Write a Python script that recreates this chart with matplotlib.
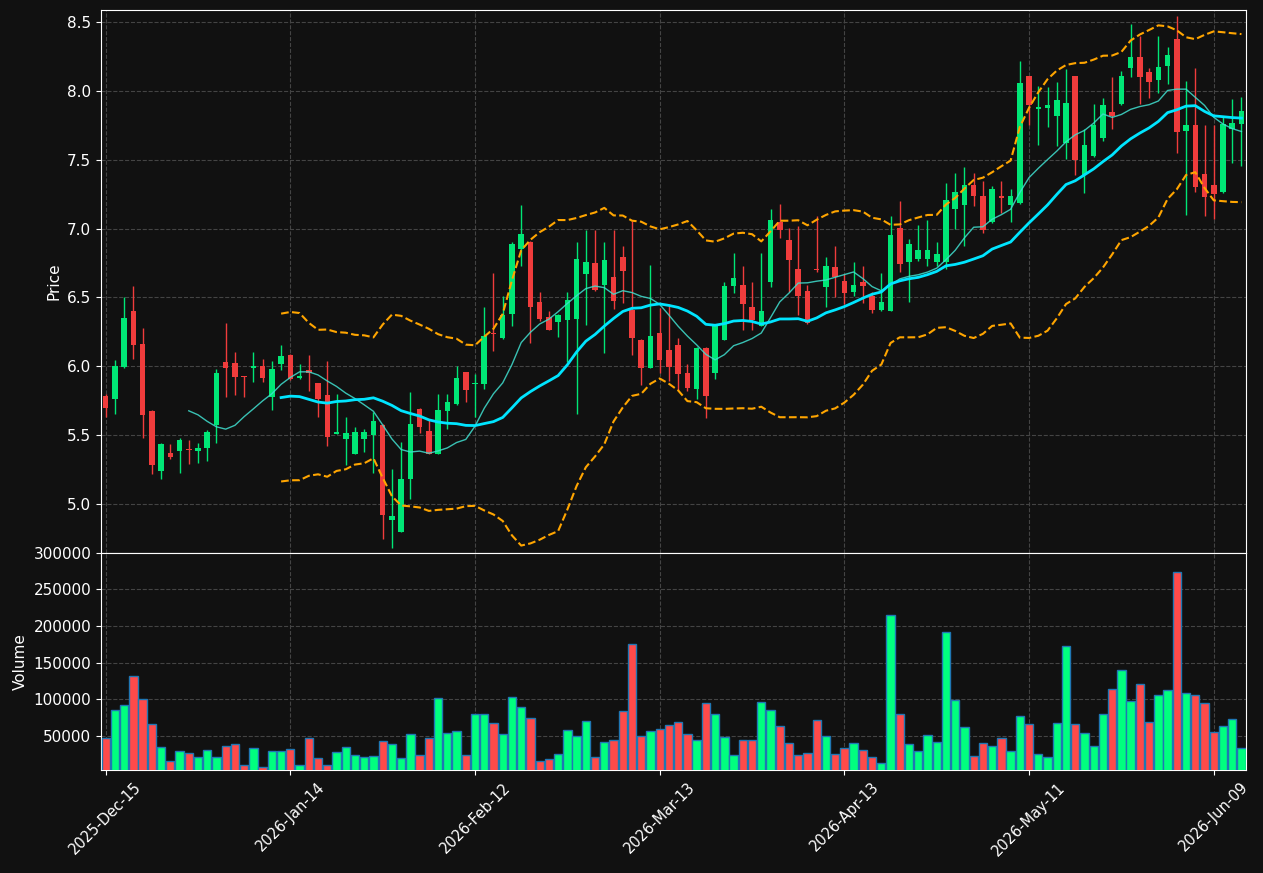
"""Candlestick chart with moving averages, Bollinger bands and volume."""
import matplotlib
matplotlib.use("Agg")
import matplotlib.pyplot as plt
import numpy as np
import pandas as pd

# trading days (NYSE holidays skipped)
holidays = ["2025-12-25", "2026-01-01", "2026-01-19", "2026-02-16",
            "2026-04-03", "2026-05-25"]
dates = pd.date_range("2025-12-15", periods=124,
                      freq=pd.offsets.CustomBusinessDay(holidays=holidays))

opens = [5.785, 5.766, 5.995, 6.401, 6.162, 5.676, 5.237, 5.372, 5.382, 5.401,
         5.382, 5.41, 5.575, 6.031, 6.024, 5.93, 5.99, 6.0, 5.78, 6.019,
         6.082, 5.915, 5.973, 5.879, 5.79, 5.512, 5.469, 5.367, 5.469, 5.498,
         5.575, 4.882, 4.795, 5.179, 5.691, 5.531, 5.367, 5.679, 5.727, 5.959,
         5.87, 5.872, 6.244, 6.208, 6.382, 6.85, 6.901, 6.466, 6.357, 6.324,
         6.338, 6.345, 6.671, 6.749, 6.592, 6.647, 6.792, 6.411, 6.191, 5.99,
         6.242, 6.118, 6.155, 5.952, 5.838, 6.133, 5.954, 6.191, 6.585, 6.589,
         6.43, 6.295, 6.614, 7.046, 6.915, 6.705, 6.546, 6.709, 6.577, 6.72,
         6.622, 6.537, 6.61, 6.512, 6.408, 6.403, 7.002, 6.758, 6.778, 6.778,
         6.758, 6.754, 7.14, 7.169, 7.314, 7.234, 7.048, 7.234, 7.169, 7.186,
         8.104, 7.867, 7.877, 7.816, 7.621, 8.104, 7.386, 7.527, 7.657, 7.843,
         7.903, 8.164, 8.249, 8.133, 8.077, 8.179, 8.379, 7.708, 7.749, 7.394,
         7.314, 7.266, 7.72, 7.756]
highs = [5.80, 6.046, 6.50, 6.582, 6.275, 5.68, 5.44, 5.437, 5.48, 5.464,
         5.445, 5.534, 5.978, 6.312, 6.104, 5.93, 6.104, 6.053, 6.04, 6.155,
         6.09, 6.02, 6.08, 5.88, 6.036, 5.797, 5.63, 5.56, 5.543, 5.671,
         5.58, 5.254, 5.449, 5.812, 5.70, 5.611, 5.797, 5.797, 6.0, 5.96,
         5.944, 6.43, 6.674, 6.514, 6.899, 7.169, 6.91, 6.543, 6.403, 6.38,
         6.536, 6.899, 6.986, 6.99, 6.899, 6.99, 6.87, 7.058, 6.20, 6.739,
         6.42, 6.449, 6.208, 6.02, 6.14, 6.14, 6.30, 6.609, 6.819, 6.725,
         6.609, 6.819, 7.145, 7.181, 7.005, 7.019, 6.589, 7.094, 6.79, 6.874,
         6.669, 6.754, 6.725, 6.541, 6.681, 7.092, 7.20, 6.923, 7.029, 7.063,
         6.906, 7.333, 7.401, 7.449, 7.406, 7.348, 7.307, 7.348, 7.29, 8.217,
         8.11, 8.034, 8.029, 8.065, 8.159, 8.11, 7.72, 7.906, 7.949, 8.101,
         8.147, 8.483, 8.396, 8.167, 8.401, 8.319, 8.546, 8.07, 8.167, 7.749,
         7.749, 7.809, 7.942, 7.957]
lows = [5.635, 5.652, 5.99, 6.051, 5.478, 5.22, 5.181, 5.33, 5.225, 5.29,
        5.30, 5.31, 5.442, 5.78, 5.795, 5.78, 5.889, 5.889, 5.68, 5.973,
        5.90, 5.91, 5.82, 5.63, 5.42, 5.51, 5.283, 5.367, 5.379, 5.227,
        4.746, 4.681, 4.795, 5.036, 5.519, 5.36, 5.36, 5.543, 5.72, 5.739,
        5.63, 5.833, 6.109, 6.2, 6.29, 6.727, 6.167, 6.33, 6.26, 6.21,
        6.034, 5.652, 6.3, 6.55, 6.094, 6.418, 6.457, 6.082, 5.862, 5.99,
        5.949, 5.894, 5.831, 5.82, 5.761, 5.623, 5.911, 6.19, 6.534, 6.261,
        6.261, 6.29, 6.577, 6.928, 6.539, 6.374, 6.31, 6.686, 6.428, 6.505,
        6.452, 6.51, 6.459, 6.384, 6.40, 6.40, 6.686, 6.464, 6.761, 6.729,
        6.729, 6.705, 7.0, 6.87, 7.162, 6.969, 7.04, 7.111, 7.048, 7.18,
        7.754, 7.606, 7.739, 7.599, 7.507, 7.386, 7.256, 7.52, 7.635, 7.72,
        7.90, 8.101, 7.901, 7.949, 7.986, 8.053, 7.551, 7.099, 7.266, 7.092,
        7.07, 7.26, 7.478, 7.452]
closes = [5.70, 6.00, 6.348, 6.157, 5.647, 5.287, 5.437, 5.338, 5.466, 5.39,
          5.408, 5.524, 5.952, 5.99, 5.925, 5.92, 6.00, 5.918, 5.98, 6.075,
          5.908, 5.93, 5.954, 5.761, 5.49, 5.524, 5.514, 5.524, 5.524, 5.604,
          4.918, 4.915, 5.184, 5.582, 5.556, 5.367, 5.684, 5.742, 5.915, 5.829,
          5.879, 6.22, 6.236, 6.372, 6.886, 6.959, 6.432, 6.343, 6.266, 6.372,
          6.478, 6.778, 6.756, 6.556, 6.771, 6.476, 6.693, 6.208, 5.99, 6.22,
          6.048, 5.998, 5.947, 5.845, 6.133, 5.785, 6.297, 6.582, 6.64, 6.452,
          6.336, 6.401, 7.06, 6.99, 6.773, 6.512, 6.316, 6.70, 6.727, 6.65,
          6.529, 6.592, 6.58, 6.408, 6.466, 6.952, 6.742, 6.886, 6.843, 6.843,
          6.814, 7.205, 7.263, 7.314, 7.234, 6.988, 7.285, 7.22, 7.234, 8.06,
          7.899, 7.879, 7.894, 7.93, 7.908, 7.498, 7.604, 7.75, 7.894, 7.816,
          8.111, 8.249, 8.099, 8.063, 8.176, 8.263, 7.70, 7.749, 7.302, 7.229,
          7.249, 7.757, 7.768, 7.85]
volumes = [47000, 84500, 91400, 131400, 99700, 66500, 34800, 15500, 29300, 26500,
           21000, 30700, 21000, 36200, 39000, 10000, 33500, 6800, 29300, 29300,
           32000, 10000, 47200, 19600, 10000, 27900, 34800, 23800, 21000, 22400,
           43100, 39000, 19600, 52800, 23800, 47200, 101000, 54100, 56900, 23800,
           79000, 79000, 67900, 52800, 102400, 88600, 74800, 15500, 18300, 25200,
           58300, 50000, 70700, 21000, 41700, 44500, 83100, 175500, 50000, 56900,
           59700, 65200, 69300, 52800, 44500, 94100, 80300, 48600, 23800, 44500,
           44500, 95500, 84500, 63800, 40300, 23800, 26500, 72000, 50000, 25200,
           33500, 40300, 30700, 21000, 12800, 215500, 80300, 39000, 29300, 51400,
           41700, 192000, 98300, 62400, 22400, 40300, 36200, 47200, 29300, 76200,
           66500, 25200, 21000, 67900, 172800, 66500, 54100, 36200, 79000, 113500,
           139700, 96900, 120400, 69300, 105200, 112100, 273500, 107900, 105200, 94100,
           55500, 63800, 73400, 33500]

BG = "#111111"
GRID = "#444444"
CANDLE_UP, CANDLE_DOWN = "#00e676", "#f03c3c"
VOL_UP, VOL_DOWN = "#00ff7f", "#ff4a4a"

df = pd.DataFrame({"open": opens, "high": highs, "low": lows,
                   "close": closes, "volume": volumes}, index=dates)
x = np.arange(len(df))
up = df["close"] >= df["open"]

sma10 = df["close"].rolling(10).mean()
sma20 = df["close"].rolling(20).mean()
std20 = df["close"].rolling(20).std(ddof=0)
upper = sma20 + 2 * std20
lower = sma20 - 2 * std20

fig = plt.figure(figsize=(12.63, 8.73), dpi=100, facecolor=BG)
ax = fig.add_axes([0.080, 0.3666, 0.9066, 0.622])
axv = fig.add_axes([0.080, 0.1180, 0.9066, 0.2486], sharex=ax)

for a in (ax, axv):
    a.set_facecolor(BG)
    a.grid(True, color=GRID, linestyle="--", linewidth=0.8)
    a.set_axisbelow(True)
    for s in a.spines.values():
        s.set_color("white")
    a.tick_params(colors="white", labelsize=11)

# candles
ccol = np.where(up, CANDLE_UP, CANDLE_DOWN)
ax.vlines(x, df["low"], df["high"], colors=ccol, linewidth=1, zorder=2)
body_low = np.minimum(df["open"], df["close"])
body_h = np.maximum((df["close"] - df["open"]).abs(), 0.008)
ax.bar(x, body_h, bottom=body_low, width=0.6, color=ccol, zorder=3)

ax.plot(x, sma10, color="#40e0d0", linewidth=1, alpha=0.85, zorder=4)
ax.plot(x, sma20, color="#00e5ff", linewidth=2, zorder=4)
ax.plot(x, upper, color="orange", linestyle="--", linewidth=1.5, zorder=4)
ax.plot(x, lower, color="orange", linestyle="--", linewidth=1.5, zorder=4)

ax.set_ylim(4.645, 8.587)
ax.set_yticks(np.arange(5.0, 8.51, 0.5))
ax.set_ylabel("Price", color="white", fontsize=11)
ax.tick_params(axis="x", labelbottom=False, length=0)

# volume
vcol = np.where(up, VOL_UP, VOL_DOWN)
axv.bar(x, df["volume"], width=0.9, color=vcol, edgecolor="#1f77b4",
        linewidth=1, zorder=3)
axv.set_ylim(3000, 300000)
axv.set_yticks(np.arange(50000, 300001, 50000))
axv.set_ylabel("Volume", color="white", fontsize=11)

ticks = x[::20]
axv.set_xticks(ticks)
axv.set_xticklabels([d.strftime("%Y-%b-%d") for d in dates[ticks]],
                    rotation=45, ha="center", fontsize=10.5)
axv.set_xlim(-0.5, len(df) - 0.5)

fig.savefig("out.png", dpi=100, facecolor=BG)
